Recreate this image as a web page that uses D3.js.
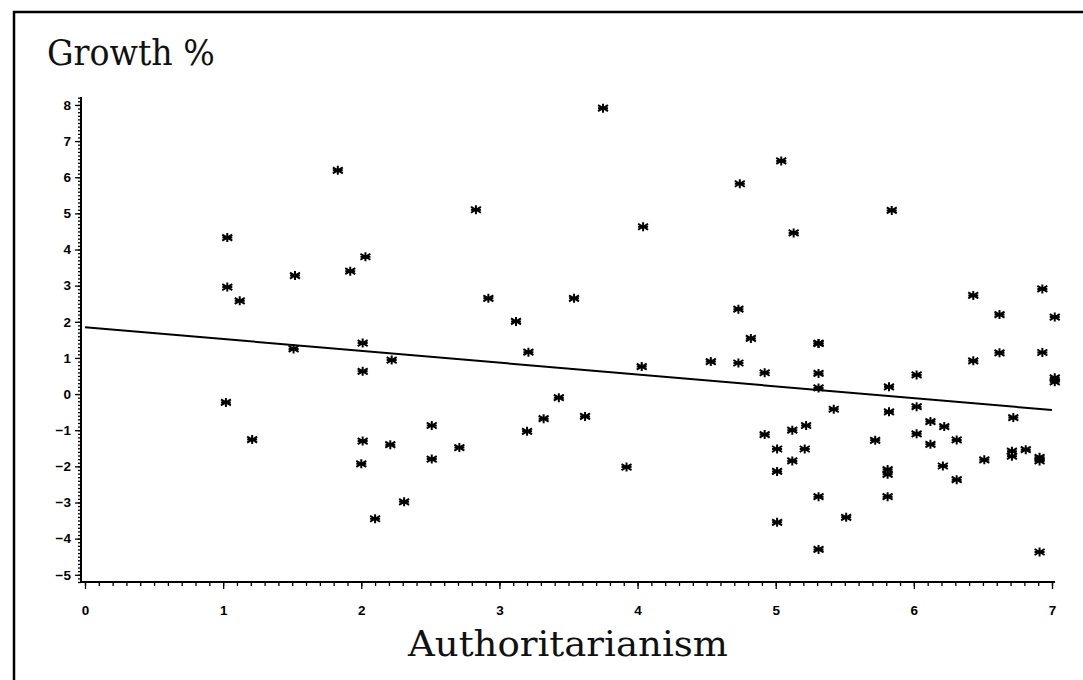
<!DOCTYPE html>
<html>
<head>
<meta charset="utf-8">
<script src="https://cdn.jsdelivr.net/npm/d3@7"></script>
<style>
  body { margin: 0; background: #fff; }
  svg { display: block; }
</style>
</head>
<body>
<script>
// data (x = authoritarianism, y = growth %)
var authX = [1.03, 1.03, 1.12, 1.02, 1.21, 1.52, 1.51, 1.83, 1.92, 2.03, 2.01, 2.01,
  2.22, 2.01, 2.21, 2.00, 2.10, 2.31, 2.51, 2.51, 2.71, 2.83, 2.92, 3.12, 3.21, 3.20,
  3.32, 3.43, 3.54, 3.62, 3.75, 3.92, 4.03, 4.04, 4.53, 4.73, 4.73, 4.74, 4.82, 4.92,
  4.92, 5.01, 5.01, 5.01, 5.04, 5.12, 5.13, 5.12, 5.22, 5.21, 5.31, 5.31, 5.31, 5.31,
  5.31, 5.31, 5.42, 5.51, 5.72, 5.81, 5.81, 5.81, 5.82, 5.82, 5.84, 6.02, 6.02, 6.02,
  6.12, 6.12, 6.21, 6.22, 6.31, 6.31, 6.43, 6.43, 6.51, 6.62, 6.62, 6.71, 6.71, 6.72,
  6.81, 6.91, 6.91, 6.91, 6.93, 6.93, 7.02, 7.02, 7.02];
var growthY = [4.33, 2.96, 2.58, -0.23, -1.26, 3.28, 1.25, 6.19, 3.40, 3.80, 1.41, 0.63,
  0.94, -1.30, -1.40, -1.93, -3.45, -2.98, -0.87, -1.80, -1.48, 5.10, 2.65, 2.01, 1.16, -1.03,
  -0.68, -0.10, 2.65, -0.62, 7.91, -2.02, 0.76, 4.63, 0.90, 0.86, 2.35, 5.82, 1.54, 0.59,
  -1.12, -1.52, -2.14, -3.55, 6.45, -1.00, 4.46, -1.85, -0.87, -1.52, 1.40, 0.57, 0.17, -2.84,
  -4.30, 1.40, -0.42, -3.41, -1.28, -2.09, -2.22, -2.84, -0.49, 0.20, 5.08, 0.53, -0.35, -1.10,
  -0.76, -1.39, -1.99, -0.90, -1.27, -2.37, 2.73, 0.92, -1.82, 2.20, 1.14, -1.58, -1.72, -0.65,
  -1.54, -1.75, -1.85, -4.37, 1.15, 2.91, 2.13, 0.45, 0.34];
var fitX = [0, 7];
var fitY = [1.85, -0.44];
var xTicks = [0, 1, 2, 3, 4, 5, 6, 7];
var yTicks = [-5, -4, -3, -2, -1, 0, 1, 2, 3, 4, 5, 6, 7, 8];

var width = 1083, height = 680;
var xScale = d3.scaleLinear().domain([0, 7]).range([85, 1052]);
var yScale = d3.scaleLinear().domain([-5.2, 8.22]).range([582, 97]);

var svg = d3.select("body").append("svg").attr("width", width).attr("height", height);

// frame of the scanned page
svg.append("path").attr("d", "M14,680 L14,12 L1083,12")
  .attr("fill", "none").attr("stroke", "#000").attr("stroke-width", 2.5);

// title and axis label (slab serif look)
svg.append("text").attr("transform", "translate(47,65) scale(1,1.15)")
  .attr("font-family", "DejaVu Serif, serif").attr("font-size", 31)
  .attr("textLength", 168).attr("lengthAdjust", "spacingAndGlyphs")
  .attr("fill", "#111").text("Growth %");
svg.append("text").attr("transform", "translate(408,656) scale(1,1.15)")
  .attr("font-family", "DejaVu Serif, serif").attr("font-size", 30)
  .attr("textLength", 320).attr("lengthAdjust", "spacingAndGlyphs")
  .attr("fill", "#111").text("Authoritarianism");

// minor tick positions (every 0.1)
var xMinor = d3.range(0, 71).map(function (i) { return i / 10; });
var yMinor = d3.range(-52, 83).map(function (i) { return i / 10; });

// y axis
var yAxisG = svg.append("g").attr("transform", "translate(81,0)");
yAxisG.call(d3.axisLeft(yScale).tickValues(yMinor).tickSize(3).tickFormat(""));
yAxisG.append("g").call(d3.axisLeft(yScale).tickValues(yTicks).tickSize(6).tickPadding(4)
  .tickFormat(d3.format("d")));
yAxisG.selectAll(".domain").remove();
yAxisG.append("line").attr("x1", 0).attr("x2", 0).attr("y1", 97).attr("y2", 583)
  .attr("stroke", "#000").attr("stroke-width", 2);

// x axis
var xAxisG = svg.append("g").attr("transform", "translate(0,582)");
xAxisG.call(d3.axisBottom(xScale).tickValues(xMinor).tickSize(4).tickFormat(""));
xAxisG.append("g").call(d3.axisBottom(xScale).tickValues(xTicks).tickSize(7).tickPadding(16)
  .tickFormat(d3.format("d")));
xAxisG.selectAll(".domain").remove();
xAxisG.append("line").attr("x1", 80).attr("x2", 1055).attr("y1", 0).attr("y2", 0)
  .attr("stroke", "#000").attr("stroke-width", 2);

svg.selectAll(".tick line").attr("stroke", "#000").attr("stroke-width", 1.3);
svg.selectAll(".tick text").attr("font-family", "Liberation Sans, Arial, sans-serif")
  .attr("font-weight", "bold").attr("font-size", 13.5).attr("fill", "#000");

// regression line
var line = d3.line().x(function (d) { return xScale(d[0]); }).y(function (d) { return yScale(d[1]); });
svg.append("path").datum(d3.zip(fitX, fitY)).attr("d", line)
  .attr("fill", "none").attr("stroke", "#000").attr("stroke-width", 2);

// asterisk markers
function star(px, py) {
  var p = d3.path();
  p.moveTo(px, py - 4.5); p.lineTo(px, py + 4.5);
  p.moveTo(px - 5, py - 3); p.lineTo(px + 5, py + 3);
  p.moveTo(px - 5, py + 3); p.lineTo(px + 5, py - 3);
  p.moveTo(px - 5, py); p.lineTo(px + 5, py);
  return p.toString();
}
svg.append("g").selectAll("path").data(d3.zip(authX, growthY)).enter()
  .append("path")
  .attr("d", function (d) { return star(xScale(d[0]), yScale(d[1])); })
  .attr("stroke", "#000").attr("stroke-width", 2).attr("fill", "none");
</script>
</body>
</html>
